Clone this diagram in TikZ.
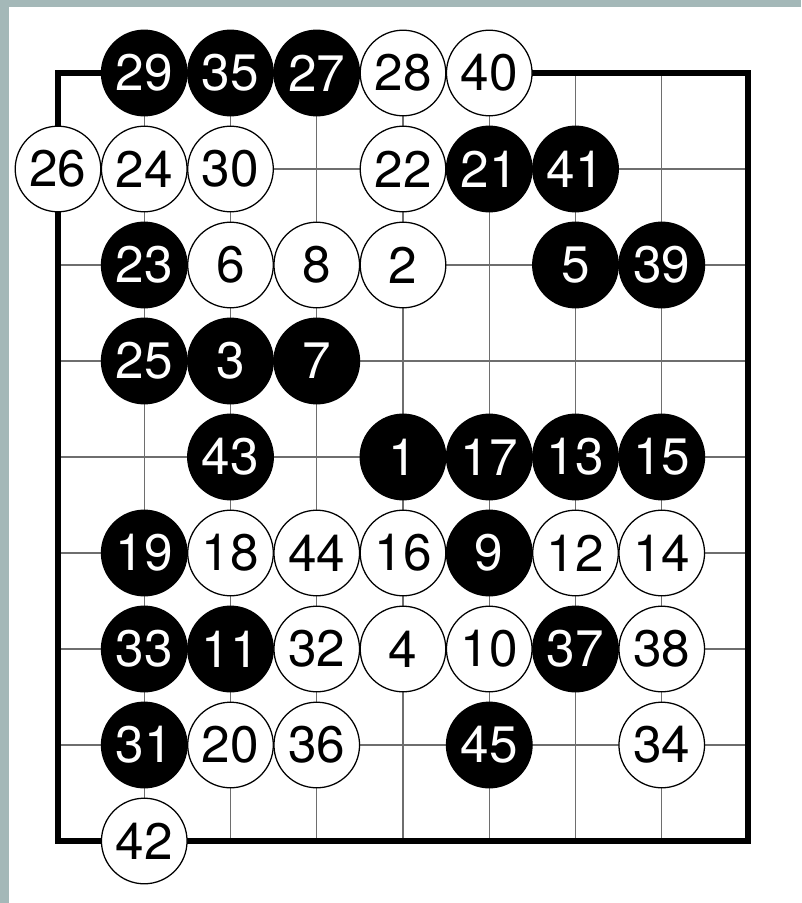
\documentclass[tikz,border=0pt]{standalone}
\usepackage{fontspec}
\setmainfont{TeX Gyre Heros}
\definecolor{FrameColor}{RGB}{164,184,184}
\definecolor{GridColor}{RGB}{110,110,110}
\usetikzlibrary{positioning}
\tikzset{
  stone/.style={circle, draw=black, line width=0.9pt, minimum size=2.14cm, inner sep=0pt,
    font=\fontsize{36.5}{36.5}\selectfont},
  blackstone/.style={stone, fill=black, text=white},
  whitestone/.style={stone, fill=white, text=black},
  gridline/.style={GridColor, line width=0.95pt},
  boardedge/.style={black, line width=3.6pt, line join=miter}
}
\begin{document}
\begin{tikzpicture}
  \useasboundingbox (0,0) rectangle (20.025,-22.575);
  \fill[white] (0,0) rectangle (20.025,-22.575);
  \fill[FrameColor] (0,0) rectangle (0.225,-22.575);
  \fill[FrameColor] (0,0) rectangle (20.025,-0.175);
  \begin{scope}[shift={(1.45,-1.825)}, x=2.15625cm, y=-2.4cm]
    % board lines
    \foreach \i in {1,...,7} {
      \draw[gridline] (\i,0) -- (\i,8);
      \draw[gridline] (0,\i) -- (8,\i);
    }
    \draw[boardedge] (0,0) rectangle (8,8);
    % black stones
    \foreach \c/\r/\n in {1/0/29, 2/0/35, 3/0/27, 5/1/21, 6/1/41, 1/2/23, 6/2/5, 7/2/39,
        1/3/25, 2/3/3, 3/3/7, 2/4/43, 4/4/1, 5/4/17, 6/4/13, 7/4/15, 1/5/19, 5/5/9,
        1/6/33, 2/6/11, 6/6/37, 1/7/31, 5/7/45}
      \node[blackstone] (s\n) at (\c,\r) {\n};
    % white stones
    \foreach \c/\r/\n in {4/0/28, 5/0/40, 0/1/26, 1/1/24, 2/1/30, 4/1/22, 2/2/6, 3/2/8,
        4/2/2, 2/5/18, 3/5/44, 4/5/16, 6/5/12, 7/5/14, 3/6/32, 4/6/4, 5/6/10, 7/6/38,
        2/7/20, 3/7/36, 7/7/34, 1/8/42}
      \node[whitestone] (s\n) at (\c,\r) {\n};
  \end{scope}
\end{tikzpicture}
\end{document}
